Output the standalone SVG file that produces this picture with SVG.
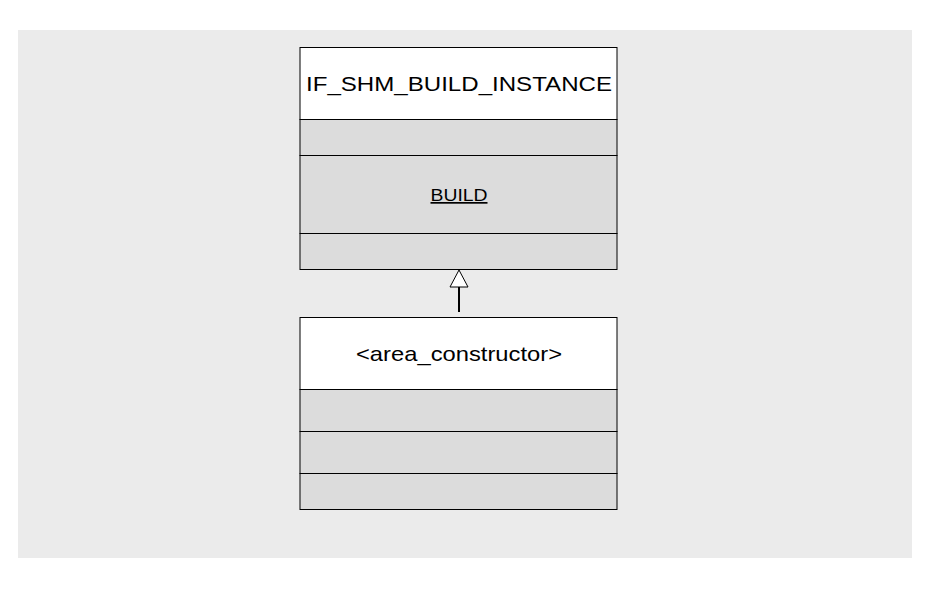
<svg xmlns="http://www.w3.org/2000/svg" width="930" height="600" viewBox="0 0 930 600">
<style>
.b{fill:#fff;stroke:#000;stroke-width:1}
.g{fill:#dcdcdc;stroke:#000;stroke-width:1}
.t{font-family:"Liberation Sans",Arial,sans-serif;fill:#000;text-anchor:middle}
</style>
<rect x="0" y="0" width="930" height="600" fill="#fff"/>
<rect x="18" y="30" width="894" height="528" fill="#ebebeb"/>
<g id="connectors">
<line x1="459" y1="287" x2="459" y2="312" stroke="#000" stroke-width="2"/>
<polygon points="459,270 450,287 468,287" fill="#fff" stroke="#000"/>
</g>
<g id="n1">
<rect class="b" x="300" y="47.500" width="317" height="72"/>
<rect class="g" x="300" y="119.500" width="317" height="36"/>
<rect class="g" x="300" y="155.500" width="317" height="78"/>
<rect class="g" x="300" y="233.500" width="317" height="36"/>
<text class="t" x="459" y="91" font-size="21" textLength="306" lengthAdjust="spacingAndGlyphs">IF_SHM_BUILD_INSTANCE</text>
<text class="t" x="459" y="201" font-size="17" text-decoration="underline" textLength="57" lengthAdjust="spacingAndGlyphs">BUILD</text>
</g>
<g id="n2">
<rect class="b" x="300" y="317.500" width="317" height="72"/>
<rect class="g" x="300" y="389.500" width="317" height="42"/>
<rect class="g" x="300" y="431.500" width="317" height="42"/>
<rect class="g" x="300" y="473.500" width="317" height="36"/>
<text class="t" x="459" y="361" font-size="21" textLength="206" lengthAdjust="spacingAndGlyphs">&lt;area_constructor&gt;</text>
</g>
</svg>
